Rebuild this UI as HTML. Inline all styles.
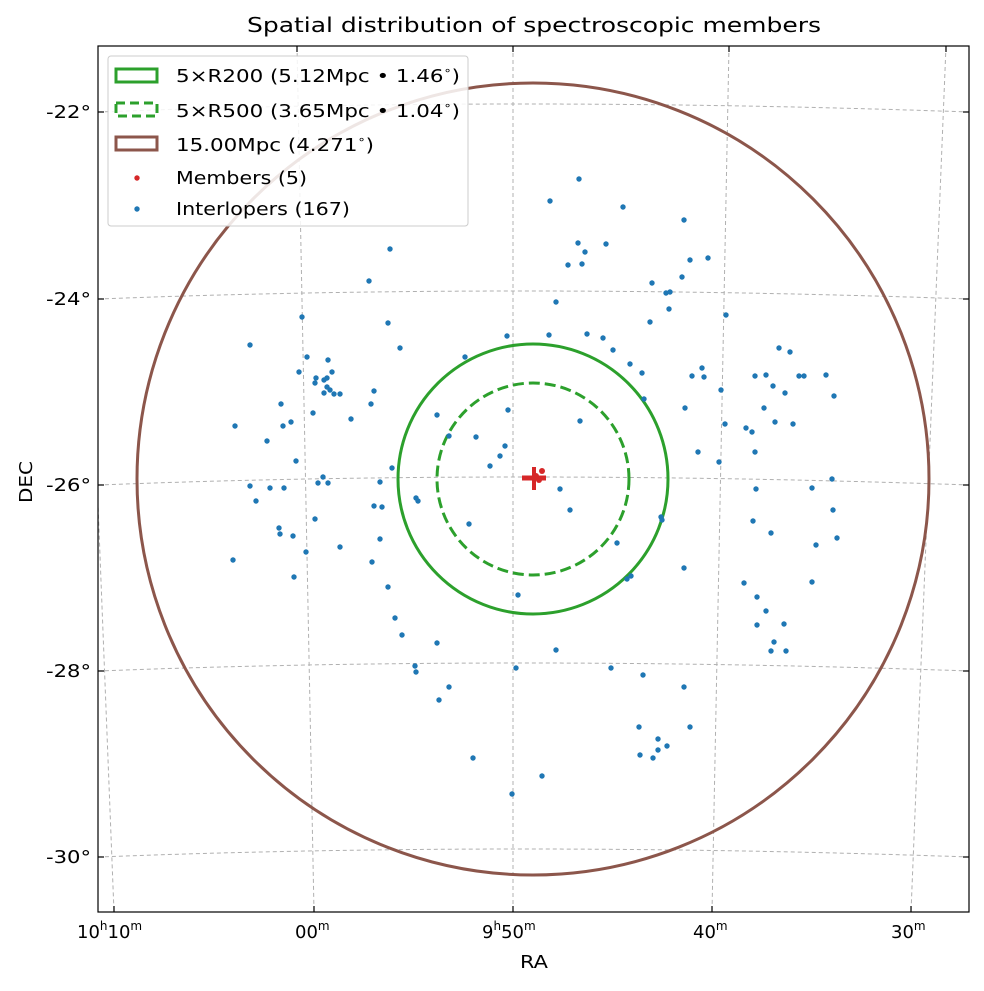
<!DOCTYPE html>
<html><head><meta charset="utf-8"><style>
body{margin:0;background:#fff}
svg text{font-family:"DejaVu Sans","Liberation Sans",sans-serif;fill:#000}
</style></head><body>
<svg width="984" height="986" viewBox="0 0 984 986" xmlns="http://www.w3.org/2000/svg">
<rect width="984" height="986" fill="#fff"/>
<defs><clipPath id="c"><rect x="98" y="46" width="871" height="866"/></clipPath></defs>
<text x="247" y="32" style="font-size:20px" textLength="574" lengthAdjust="spacingAndGlyphs">Spatial distribution of spectroscopic members</text>
<g clip-path="url(#c)">
<g stroke="#b0b0b0" stroke-width="1" stroke-dasharray="4,3" fill="none">
<path d="M98,112 Q513,96 969,112"/>
<path d="M98,299 Q513,283 969,299"/>
<path d="M98,485 Q513,469 969,485"/>
<path d="M98,671 Q513,655 969,671"/>
<path d="M98,857 Q513,841 969,857"/>
<line x1="80" y1="46" x2="114" y2="912"/>
<line x1="297" y1="46" x2="314" y2="912"/>
<line x1="513" y1="46" x2="513" y2="912"/>
<line x1="729" y1="46" x2="712" y2="912"/>
<line x1="946" y1="46" x2="911" y2="912"/>
</g>
<circle cx="533" cy="479" r="396" fill="none" stroke="#8c564b" stroke-width="3"/>
<circle cx="533" cy="479" r="135" fill="none" stroke="#2ca02c" stroke-width="3"/>
<circle cx="533" cy="479" r="96" fill="none" stroke="#2ca02c" stroke-width="3" stroke-dasharray="11,5"/>
<g fill="#1f77b4">
<circle cx="250" cy="345" r="2.7"/><circle cx="307" cy="357" r="2.7"/><circle cx="328" cy="360" r="2.7"/><circle cx="299" cy="372" r="2.7"/><circle cx="332" cy="372" r="2.7"/><circle cx="316" cy="378" r="2.7"/><circle cx="315" cy="383" r="2.7"/><circle cx="324" cy="380" r="2.7"/><circle cx="327" cy="378" r="2.7"/><circle cx="327" cy="387" r="2.7"/><circle cx="324" cy="393" r="2.7"/><circle cx="330" cy="390" r="2.7"/><circle cx="334" cy="394" r="2.7"/><circle cx="340" cy="394" r="2.7"/><circle cx="374" cy="391" r="2.7"/><circle cx="371" cy="404" r="2.7"/><circle cx="388" cy="323" r="2.7"/><circle cx="400" cy="348" r="2.7"/><circle cx="281" cy="404" r="2.7"/><circle cx="313" cy="413" r="2.7"/><circle cx="351" cy="419" r="2.7"/><circle cx="235" cy="426" r="2.7"/><circle cx="283" cy="426" r="2.7"/><circle cx="291" cy="422" r="2.7"/><circle cx="267" cy="441" r="2.7"/><circle cx="296" cy="461" r="2.7"/><circle cx="392" cy="468" r="2.7"/><circle cx="323" cy="477" r="2.7"/><circle cx="318" cy="483" r="2.7"/><circle cx="328" cy="483" r="2.7"/><circle cx="380" cy="482" r="2.7"/><circle cx="250" cy="486" r="2.7"/><circle cx="270" cy="488" r="2.7"/><circle cx="284" cy="488" r="2.7"/><circle cx="256" cy="501" r="2.7"/><circle cx="374" cy="506" r="2.7"/><circle cx="382" cy="507" r="2.7"/><circle cx="315" cy="519" r="2.7"/><circle cx="279" cy="528" r="2.7"/><circle cx="280" cy="534" r="2.7"/><circle cx="293" cy="536" r="2.7"/><circle cx="380" cy="539" r="2.7"/><circle cx="340" cy="547" r="2.7"/><circle cx="306" cy="552" r="2.7"/><circle cx="233" cy="560" r="2.7"/><circle cx="372" cy="562" r="2.7"/><circle cx="294" cy="577" r="2.7"/>
<circle cx="779" cy="348" r="2.7"/><circle cx="790" cy="352" r="2.7"/><circle cx="702" cy="368" r="2.7"/><circle cx="692" cy="376" r="2.7"/><circle cx="704" cy="377" r="2.7"/><circle cx="755" cy="376" r="2.7"/><circle cx="766" cy="375" r="2.7"/><circle cx="799" cy="376" r="2.7"/><circle cx="804" cy="376" r="2.7"/><circle cx="826" cy="375" r="2.7"/><circle cx="773" cy="386" r="2.7"/><circle cx="721" cy="390" r="2.7"/><circle cx="785" cy="393" r="2.7"/><circle cx="834" cy="396" r="2.7"/><circle cx="685" cy="408" r="2.7"/><circle cx="764" cy="408" r="2.7"/><circle cx="725" cy="424" r="2.7"/><circle cx="775" cy="422" r="2.7"/><circle cx="793" cy="424" r="2.7"/><circle cx="746" cy="428" r="2.7"/><circle cx="752" cy="432" r="2.7"/><circle cx="698" cy="452" r="2.7"/><circle cx="755" cy="452" r="2.7"/><circle cx="719" cy="462" r="2.7"/><circle cx="832" cy="479" r="2.7"/><circle cx="756" cy="489" r="2.7"/><circle cx="812" cy="488" r="2.7"/><circle cx="753" cy="521" r="2.7"/><circle cx="771" cy="533" r="2.7"/><circle cx="816" cy="545" r="2.7"/><circle cx="837" cy="538" r="2.7"/><circle cx="684" cy="568" r="2.7"/>
<circle cx="579" cy="179" r="2.7"/><circle cx="550" cy="201" r="2.7"/><circle cx="623" cy="207" r="2.7"/><circle cx="684" cy="220" r="2.7"/><circle cx="390" cy="249" r="2.7"/><circle cx="578" cy="243" r="2.7"/><circle cx="585" cy="252" r="2.7"/><circle cx="606" cy="244" r="2.7"/><circle cx="568" cy="265" r="2.7"/><circle cx="582" cy="264" r="2.7"/><circle cx="690" cy="260" r="2.7"/><circle cx="708" cy="258" r="2.7"/><circle cx="682" cy="277" r="2.7"/><circle cx="652" cy="283" r="2.7"/><circle cx="369" cy="281" r="2.7"/><circle cx="666" cy="293" r="2.7"/><circle cx="670" cy="292" r="2.7"/><circle cx="669" cy="309" r="2.7"/><circle cx="556" cy="302" r="2.7"/><circle cx="726" cy="315" r="2.7"/><circle cx="302" cy="317" r="2.7"/><circle cx="650" cy="322" r="2.7"/><circle cx="507" cy="336" r="2.7"/><circle cx="549" cy="335" r="2.7"/><circle cx="587" cy="334" r="2.7"/><circle cx="603" cy="338" r="2.7"/><circle cx="613" cy="350" r="2.7"/><circle cx="630" cy="364" r="2.7"/><circle cx="642" cy="373" r="2.7"/><circle cx="465" cy="357" r="2.7"/>
<circle cx="388" cy="587" r="2.7"/><circle cx="395" cy="618" r="2.7"/><circle cx="402" cy="635" r="2.7"/><circle cx="437" cy="643" r="2.7"/><circle cx="415" cy="666" r="2.7"/><circle cx="416" cy="672" r="2.7"/><circle cx="449" cy="687" r="2.7"/><circle cx="439" cy="700" r="2.7"/><circle cx="473" cy="758" r="2.7"/><circle cx="512" cy="794" r="2.7"/><circle cx="542" cy="776" r="2.7"/><circle cx="518" cy="595" r="2.7"/><circle cx="556" cy="650" r="2.7"/><circle cx="516" cy="668" r="2.7"/><circle cx="611" cy="668" r="2.7"/><circle cx="643" cy="675" r="2.7"/><circle cx="684" cy="687" r="2.7"/><circle cx="627" cy="579" r="2.7"/><circle cx="631" cy="576" r="2.7"/><circle cx="639" cy="727" r="2.7"/><circle cx="690" cy="727" r="2.7"/><circle cx="658" cy="739" r="2.7"/><circle cx="667" cy="746" r="2.7"/><circle cx="658" cy="750" r="2.7"/><circle cx="640" cy="755" r="2.7"/><circle cx="653" cy="758" r="2.7"/>
<circle cx="437" cy="415" r="2.7"/><circle cx="508" cy="410" r="2.7"/><circle cx="449" cy="436" r="2.7"/><circle cx="476" cy="437" r="2.7"/><circle cx="505" cy="446" r="2.7"/><circle cx="500" cy="456" r="2.7"/><circle cx="490" cy="466" r="2.7"/><circle cx="416" cy="498" r="2.7"/><circle cx="418" cy="501" r="2.7"/><circle cx="560" cy="489" r="2.7"/><circle cx="570" cy="510" r="2.7"/><circle cx="469" cy="524" r="2.7"/><circle cx="617" cy="543" r="2.7"/><circle cx="661" cy="517" r="2.7"/><circle cx="662" cy="520" r="2.7"/><circle cx="580" cy="421" r="2.7"/><circle cx="644" cy="399" r="2.7"/>
<circle cx="744" cy="583" r="2.7"/><circle cx="757" cy="597" r="2.7"/><circle cx="757" cy="625" r="2.7"/><circle cx="766" cy="611" r="2.7"/><circle cx="774" cy="642" r="2.7"/><circle cx="771" cy="651" r="2.7"/><circle cx="786" cy="651" r="2.7"/><circle cx="784" cy="624" r="2.7"/><circle cx="812" cy="582" r="2.7"/><circle cx="833" cy="510" r="2.7"/>
</g>
<g fill="#d62728" stroke="#d62728">
<line x1="522" y1="478" x2="546" y2="478" stroke-width="5"/>
<line x1="534" y1="467" x2="534" y2="490" stroke-width="4"/>
<circle cx="542" cy="471" r="3" stroke="none"/><circle cx="539" cy="480" r="3" stroke="none"/><circle cx="536" cy="476" r="3" stroke="none"/>
</g>
</g>
<rect x="98" y="46" width="871" height="866" fill="none" stroke="#000" stroke-width="1.2"/>
<g stroke="#000" stroke-width="1.2">
<line x1="98" y1="112" x2="104" y2="112"/><line x1="98" y1="299" x2="104" y2="299"/><line x1="98" y1="485" x2="104" y2="485"/><line x1="98" y1="671" x2="104" y2="671"/><line x1="98" y1="857" x2="104" y2="857"/>
<line x1="969" y1="112" x2="963" y2="112"/><line x1="969" y1="299" x2="963" y2="299"/><line x1="969" y1="485" x2="963" y2="485"/><line x1="969" y1="671" x2="963" y2="671"/><line x1="969" y1="857" x2="963" y2="857"/>
<line x1="114" y1="912" x2="114" y2="906"/><line x1="314" y1="912" x2="314" y2="906"/><line x1="513" y1="912" x2="513" y2="906"/><line x1="712" y1="912" x2="712" y2="906"/><line x1="911" y1="912" x2="911" y2="906"/>
<line x1="297" y1="46" x2="297" y2="52"/><line x1="513" y1="46" x2="513" y2="52"/><line x1="729" y1="46" x2="729" y2="52"/><line x1="946" y1="46" x2="946" y2="52"/>
</g>
<g style="font-size:18px">
<text x="46" y="118" textLength="45" lengthAdjust="spacingAndGlyphs">-22°</text>
<text x="46" y="305" textLength="45" lengthAdjust="spacingAndGlyphs">-24°</text>
<text x="46" y="491" textLength="45" lengthAdjust="spacingAndGlyphs">-26°</text>
<text x="46" y="677" textLength="45" lengthAdjust="spacingAndGlyphs">-28°</text>
<text x="46" y="863" textLength="45" lengthAdjust="spacingAndGlyphs">-30°</text>
</g>
<g style="font-size:18px">
<text x="77" y="938">10<tspan style="font-size:12px" dy="-8">h</tspan><tspan dy="8">10</tspan><tspan style="font-size:12px" dy="-8">m</tspan></text>
<text x="295" y="938">00<tspan style="font-size:12px" dy="-8">m</tspan></text>
<text x="482" y="938">9<tspan style="font-size:12px" dy="-8">h</tspan><tspan dy="8">50</tspan><tspan style="font-size:12px" dy="-8">m</tspan></text>
<text x="693" y="938">40<tspan style="font-size:12px" dy="-8">m</tspan></text>
<text x="891" y="938">30<tspan style="font-size:12px" dy="-8">m</tspan></text>
<text x="520" y="968" textLength="28" lengthAdjust="spacingAndGlyphs">RA</text>
</g>
<text transform="translate(32,503) rotate(-90)" style="font-size:18px" textLength="42" lengthAdjust="spacingAndGlyphs">DEC</text>
<rect x="108" y="56" width="360" height="170" rx="3" fill="#fff" fill-opacity="0.85" stroke="#ccc" stroke-width="1"/>
<rect x="116" y="69" width="41" height="13" fill="none" stroke="#2ca02c" stroke-width="3"/>
<rect x="116" y="103" width="41" height="13" fill="none" stroke="#2ca02c" stroke-width="3" stroke-dasharray="9,5"/>
<rect x="116" y="137" width="41" height="13" fill="none" stroke="#8c564b" stroke-width="3"/>
<circle cx="137" cy="178" r="2.7" fill="#d62728"/>
<circle cx="137" cy="209" r="2.7" fill="#1f77b4"/>
<g style="font-size:18px">
<text x="176" y="82" textLength="284" lengthAdjust="spacingAndGlyphs">5×R200 (5.12Mpc • 1.46<tspan style="font-size:11px" dy="-8">∘</tspan><tspan dy="8">)</tspan></text>
<text x="176" y="117" textLength="284" lengthAdjust="spacingAndGlyphs">5×R500 (3.65Mpc • 1.04<tspan style="font-size:11px" dy="-8">∘</tspan><tspan dy="8">)</tspan></text>
<text x="176" y="151" textLength="198" lengthAdjust="spacingAndGlyphs">15.00Mpc (4.271<tspan style="font-size:11px" dy="-8">∘</tspan><tspan dy="8">)</tspan></text>
<text x="176" y="184" textLength="131" lengthAdjust="spacingAndGlyphs">Members (5)</text>
<text x="176" y="215" textLength="174" lengthAdjust="spacingAndGlyphs">Interlopers (167)</text>
</g>
</svg>
</body></html>
